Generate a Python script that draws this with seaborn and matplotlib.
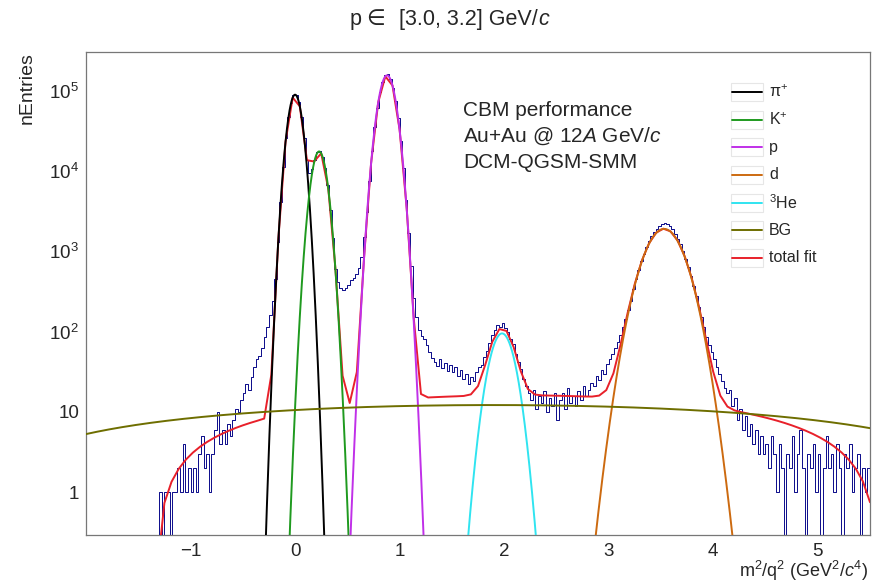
import numpy as np
import pandas as pd
import matplotlib
matplotlib.use("Agg")
import matplotlib.pyplot as plt
import seaborn as sns
from matplotlib.lines import Line2D
from matplotlib.patches import Rectangle
from matplotlib.ticker import FixedLocator, FixedFormatter, LogLocator, NullFormatter, MultipleLocator

# ------------------------------------------------------------------ data
# histogram of m^2/q^2, bins of 0.025 from -2.0 to 5.5 (counts)
hist_start, hist_stop = -2.0, 5.5
hist_counts = [
    0, 0, 0, 0, 0, 0, 0, 0, 0, 0, 0, 0, 0, 0, 0, 0, 0, 0, 0, 0,                      # -2.0 .. -1.5
    0, 0, 0, 0, 0, 0, 0, 0, 1, 0, 1, 1, 0, 1, 1, 2, 1, 4, 1, 2,                      # -1.5 .. -1.0
    1, 2, 1, 3, 5, 2, 3, 1, 3, 6, 10, 4, 6, 4, 7, 5, 8, 11, 10, 14,                  # -1.0 .. -0.5
    17, 22, 19, 27, 36, 45, 50, 62, 85, 115, 160, 240,
    450, 1300, 4100, 11300, 25500, 47000, 71000, 89000,                              # -0.5 .. 0.0
    88000, 72000, 47000, 26000, 13500, 9500, 10500, 13800, 17000, 17800,
    15000, 11000, 6600, 3300, 1450, 600, 410, 345, 330, 350,                         # 0.0 .. 0.5
    380, 440, 470, 520, 620, 850, 1500, 3100, 7500, 17500,
    35000, 61000, 95000, 128000, 156000, 161000, 140000, 109000, 75000, 45000,       # 0.5 .. 1.0
    23500, 10800, 4400, 1700, 650, 260, 150, 105, 88, 80,
    68, 56, 47, 42, 37, 45, 35, 41, 32, 38,                                          # 1.0 .. 1.5
    31, 36, 28, 33, 26, 30, 22, 27, 24, 31, 36, 38, 48, 58, 72, 90, 105, 122, 115, 128,  # 1.5 .. 2.0
    112, 100, 82, 70, 52, 42, 34, 26, 21, 17, 14, 19, 11, 16, 13, 18, 10, 15, 12, 17,   # 2.0 .. 2.5
    8, 14, 17, 11, 20, 13, 16, 12, 18, 14, 21, 16, 19, 23, 21, 28, 25, 33, 30, 40,       # 2.5 .. 3.0
    45, 52, 62, 75, 90, 115, 145, 185, 240, 335,
    450, 590, 750, 920, 1120, 1330, 1530, 1720, 1900, 2050,                          # 3.0 .. 3.5
    2200, 2250, 2180, 2050, 1880, 1650, 1430, 1220, 1000, 810,
    640, 495, 375, 280, 205, 150, 115, 85, 68, 55,                                   # 3.5 .. 4.0
    46, 36, 30, 24, 20, 17, 19, 12, 15, 8, 11, 6, 9, 5, 7, 4, 6, 3, 5, 3,            # 4.0 .. 4.5
    4, 2, 5, 3, 1, 4, 2, 0, 3, 2, 5, 1, 3, 6, 2, 0, 3, 2, 4, 1,                      # 4.5 .. 5.0
    3, 0, 2, 5, 2, 3, 1, 4, 2, 0, 3, 2, 4, 1, 2, 3, 0, 2, 1, 2,                      # 5.0 .. 5.5
]

# Gaussian fit components (amplitude, mean, sigma)
species = ["pi", "K", "p", "d", "He3"]
peak_amp = [8.9e4, 1.75e4, 1.55e5, 1.9e3, 95.0]
peak_mean = [0.0, 0.23, 0.88, 3.53, 1.98]
peak_sigma = [0.0555, 0.060, 0.068, 0.156, 0.095]

# polynomial backgrounds p0 + p1*x + p2*x^2
bg_curve_pol2 = [10.56, 1.72, -0.454]     # "BG" curve
total_bg_pol2 = [10.02, 5.74, -1.35]      # background inside the total fit

legend_labels = ["$\\pi^{+}$", "K$^{+}$", "p", "d", "$^{3}$He", "BG", "total fit"]
x_tick_values = [-1, 0, 1, 2, 3, 4, 5]
x_tick_labels = ["\u22121", "0", "1", "2", "3", "4", "5"]
y_tick_values = [1, 10, 100, 1000, 10000, 100000]
y_tick_labels = ["1", "10", "10$^{2}$", "10$^{3}$", "10$^{4}$", "10$^{5}$"]

# ------------------------------------------------------------------ style
sns.set_style("white")
plt.rcParams["font.family"] = ["Liberation Sans", "DejaVu Sans"]
plt.rcParams["mathtext.fontset"] = "custom"
plt.rcParams["mathtext.rm"] = "Liberation Sans"
plt.rcParams["mathtext.it"] = "Liberation Sans:italic"
plt.rcParams["mathtext.bf"] = "Liberation Sans:bold"
plt.rcParams["mathtext.default"] = "regular"

colors = ["#000000", "#1f9a1f", "#c030e8", "#cc6a10", "#30e4f0"]
bg_color = "#6e6e00"
fit_color = "#e8202a"
hist_color = "#0a0a8a"

W, H = 879, 582
fig = plt.figure(figsize=(W / 100, H / 100), dpi=100)
ax = fig.add_axes([86 / W, 1 - 535 / H, (870 - 86) / W, (535 - 52.3) / H])

# ------------------------------------------------------------------ histogram
nbins = len(hist_counts)
edges = np.linspace(hist_start, hist_stop, nbins + 1)
hist_df = pd.DataFrame({"m2": 0.5 * (edges[:-1] + edges[1:]), "n": hist_counts})
sns.histplot(data=hist_df, x="m2", weights="n", bins=nbins, binrange=(hist_start, hist_stop),
             element="step", fill=False, color=hist_color, linewidth=0.7, ax=ax, zorder=2)


def gauss(x, a, m, s):
    return a * np.exp(-0.5 * ((x - m) / s) ** 2)


def pol2(x, c):
    return c[0] + c[1] * x + c[2] * x ** 2


# total fit, sampled coarsely like the ROOT TF1 drawing
x_coarse = np.linspace(hist_start, hist_stop, 111)
total = pol2(x_coarse, total_bg_pol2)
for a, m, s in zip(peak_amp, peak_mean, peak_sigma):
    total = total + gauss(x_coarse, a, m, s)
sns.lineplot(x=x_coarse, y=total, color=fit_color, linewidth=1.4, ax=ax,
             estimator=None, sort=False, zorder=3)

# individual components
x_fine = np.linspace(hist_start, hist_stop, 3001)
for a, m, s, c in zip(peak_amp, peak_mean, peak_sigma, colors):
    sns.lineplot(x=x_fine, y=gauss(x_fine, a, m, s), color=c, linewidth=1.4, ax=ax,
                 estimator=None, sort=False, zorder=4)

sns.lineplot(x=x_fine, y=pol2(x_fine, bg_curve_pol2), color=bg_color, linewidth=1.4,
             ax=ax, estimator=None, sort=False, zorder=5)

# ------------------------------------------------------------------ axes
ax.set_yscale("log")
ax.set_xlim(hist_start, hist_stop)
ax.set_ylim(0.294, 3.0e5)
ax.set_xlabel("")
ax.set_ylabel("")

ax.xaxis.set_major_locator(FixedLocator(x_tick_values))
ax.xaxis.set_major_formatter(FixedFormatter(x_tick_labels))
ax.xaxis.set_minor_locator(MultipleLocator(0.2))
ax.yaxis.set_major_locator(FixedLocator(y_tick_values))
ax.yaxis.set_major_formatter(FixedFormatter(y_tick_labels))
ax.yaxis.set_minor_locator(LogLocator(base=10, subs=np.arange(2, 10), numticks=30))
ax.yaxis.set_minor_formatter(NullFormatter())

tick_col = "#444444"
ax.tick_params(axis="x", which="major", direction="in", length=10.8, width=0.8,
               color=tick_col, labelsize=13.5, pad=6, top=False)
ax.tick_params(axis="x", which="minor", direction="in", length=5.4, width=0.8,
               color=tick_col, top=False)
ax.tick_params(axis="y", which="major", direction="in", length=16.5, width=0.8,
               color=tick_col, labelsize=13.5, pad=5, right=False)
ax.tick_params(axis="y", which="minor", direction="in", length=8.4, width=0.8,
               color=tick_col, right=False)
for sp in ax.spines.values():
    sp.set_color("#777777")
    sp.set_linewidth(0.9)
    sp.set_visible(True)

# ------------------------------------------------------------------ texts
title_y = 1 - 25 / H
fig.text(350 / W, title_y, "p", ha="left", va="baseline", fontsize=15.5)
fig.text(366 / W, title_y, "\u2208", ha="left", va="baseline", fontsize=15.5,
         family=["DejaVu Sans"])
t_main = fig.text(399 / W, title_y, "[3.0, 3.2] GeV/", ha="left", va="baseline", fontsize=15.5)
fig.text(0, 0, "c", fontsize=15.5, fontstyle="italic", ha="left", va="baseline",
         transform=matplotlib.transforms.offset_copy(
             fig.transFigure, fig=fig, x=0, y=0, units="dots"))
# place the italic c right after the main title piece
fig.canvas.draw()
bb = t_main.get_window_extent()
fig.texts[-1].set_position((bb.x1 / (W) + 1 / W, title_y))

fig.text(27 / W, 1 - 52 / H, "nEntries", rotation=90, ha="center", va="top", fontsize=14)
fig.text(868 / W, 1 - 577 / H, "m$^{2}$/q$^{2}$ (GeV$^{2}$/$\\mathit{c}^{4}$)",
         ha="right", va="baseline", fontsize=13)

info = ["CBM performance", "Au+Au @ 12$\\mathit{A}$ GeV/$\\mathit{c}$", "DCM-QGSM-SMM"]
for i, t in enumerate(info):
    fig.text(463 / W, 1 - (116 + 25.8 * i) / H, t, ha="left", va="baseline", fontsize=15)

# legend
leg_colors = colors + [bg_color, fit_color]
for i, (lab, c) in enumerate(zip(legend_labels, leg_colors)):
    yy = 92 + 27.65 * i
    fig.add_artist(Rectangle((731 / W, 1 - (yy + 9) / H), 32 / W, 18 / H,
                             transform=fig.transFigure, fill=False,
                             edgecolor="#e6e6e6", linewidth=0.8))
    fig.add_artist(Line2D([732 / W, 762 / W], [1 - yy / H, 1 - yy / H],
                          transform=fig.transFigure, color=c, linewidth=1.4))
    fig.text(769 / W, 1 - yy / H, lab, ha="left", va="center", fontsize=11.5)

fig.savefig("out.png", dpi=100)
